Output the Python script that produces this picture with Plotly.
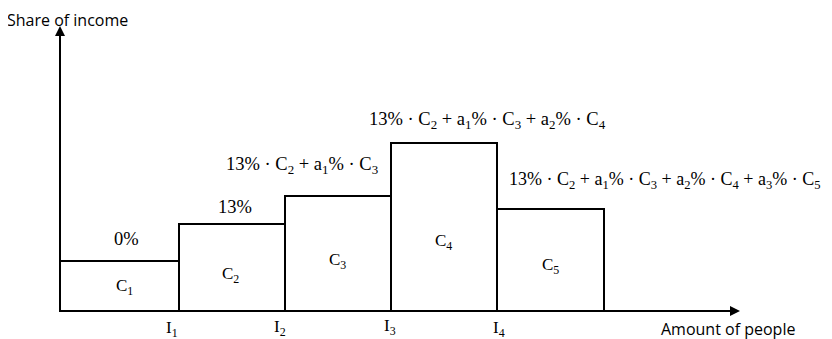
import plotly.graph_objects as go

# bar edges along the "amount of people" axis and bar heights (share of income)
edges = [0, 119, 225, 331, 437, 544]
heights = [50, 87, 115, 168, 102]
bar_names = ["C<sub>1</sub>", "C<sub>2</sub>", "C<sub>3</sub>", "C<sub>4</sub>", "C<sub>5</sub>"]
tick_names = ["I<sub>1</sub>", "I<sub>2</sub>", "I<sub>3</sub>", "I<sub>4</sub>"]
rate_labels = [
    "0%",
    "13%",
    "13% · C<sub>2</sub> + a<sub>1</sub>% · C<sub>3</sub>",
    "13% · C<sub>2</sub> + a<sub>1</sub>% · C<sub>3</sub> + a<sub>2</sub>% · C<sub>4</sub>",
    "13% · C<sub>2</sub> + a<sub>1</sub>% · C<sub>3</sub> + a<sub>2</sub>% · C<sub>4</sub> + a<sub>3</sub>% · C<sub>5</sub>",
]

centers = [(edges[i] + edges[i + 1]) / 2 for i in range(len(heights))]
widths = [edges[i + 1] - edges[i] for i in range(len(heights))]

serif = dict(family="Liberation Serif, Times New Roman, serif", size=17, color="black")
serif_big = dict(family="Liberation Serif, Times New Roman, serif", size=18.5, color="black")
serif_long = dict(family="Liberation Serif, Times New Roman, serif", size=18, color="black")
sans = dict(family="Open Sans, sans-serif", size=16, color="black")

fig = go.Figure()
fig.add_trace(go.Bar(
    x=centers, y=heights, width=widths,
    marker=dict(color="white", line=dict(color="black", width=2)),
    hoverinfo="skip", showlegend=False,
))

annotations = []
# labels inside bars
label_x = [64, 170, 277, 383, 490]
label_y = [24, 36, 50, 69, 45]
for i in range(len(heights)):
    annotations.append(dict(x=label_x[i], y=label_y[i], text=bar_names[i], showarrow=False, font=serif))

# rate labels above bars
rate_x = [66, 175, 242, 427, 447]
rate_y = [72, 104, 146, 191, 131]
for i in range(len(rate_labels)):
    annotations.append(dict(x=rate_x[i], y=rate_y[i], text=rate_labels[i], showarrow=False,
                            font=serif_long if i == 4 else serif_big,
                            xanchor="left" if i == 4 else "center"))

# tick labels under the axis
tick_x = [112, 220, 330, 439]
tick_y = [-18, -17, -16, -18]
for i in range(len(tick_names)):
    annotations.append(dict(x=tick_x[i], y=tick_y[i], text=tick_names[i], showarrow=False, font=serif))

# axes with arrows
annotations.append(dict(x=680, y=0, ax=0, ay=0, xref="x", yref="y", axref="x", ayref="y",
                        showarrow=True, arrowhead=2, arrowsize=1, arrowwidth=2, arrowcolor="black", text=""))
annotations.append(dict(x=0, y=285, ax=0, ay=0, xref="x", yref="y", axref="x", ayref="y",
                        showarrow=True, arrowhead=2, arrowsize=1, arrowwidth=2, arrowcolor="black", text=""))

annotations.append(dict(x=668, y=-18, text="Amount of people", showarrow=False, font=sans))
annotations.append(dict(x=7, y=303, yanchor="top", borderpad=0, text="Share of income",
                        showarrow=False, font=sans))

fig.update_layout(
    width=824, height=331,
    margin=dict(l=0, r=0, t=0, b=0),
    plot_bgcolor="white", paper_bgcolor="white",
    xaxis=dict(range=[-52, 772], visible=False, fixedrange=True),
    yaxis=dict(range=[-28, 303], visible=False, fixedrange=True),
    annotations=annotations,
    bargap=0,
)

fig.write_html("out.html")
